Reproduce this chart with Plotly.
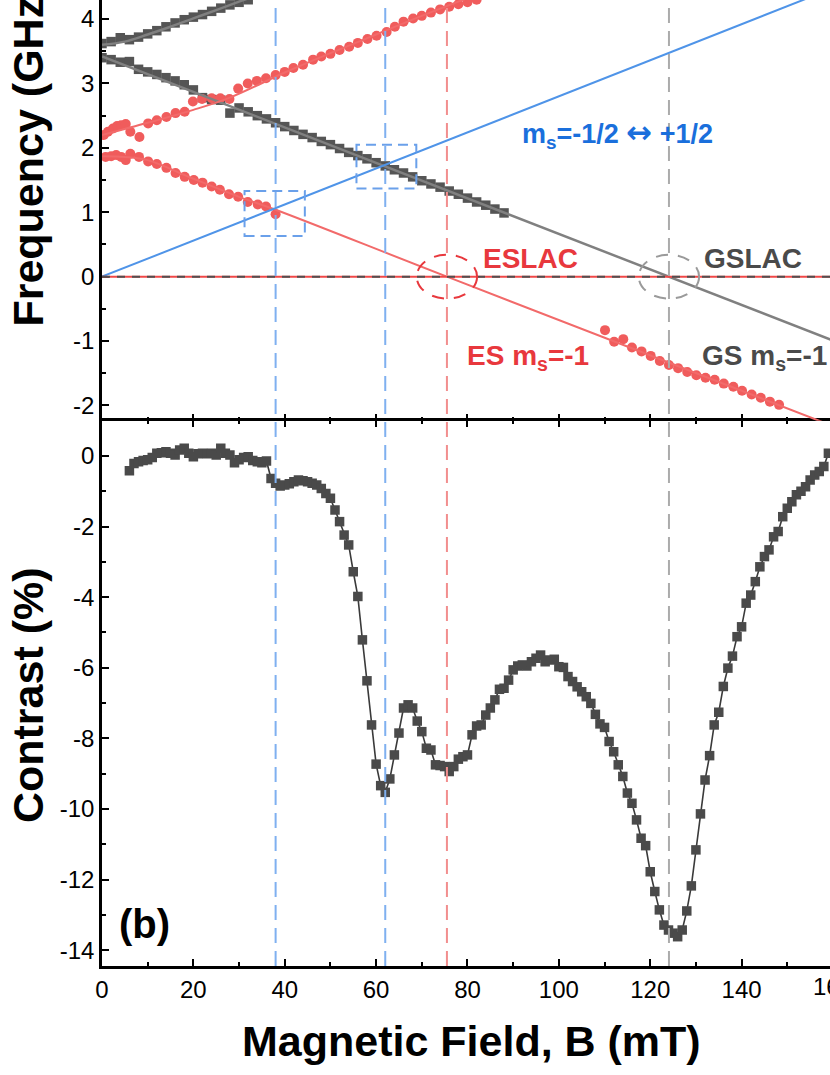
import plotly.graph_objects as go

# ---------------- data ----------------
# Top panel: ES resonances (red circles)
es_low_B1 = [0.8, 2.0, 3.1, 4.2, 5.2, 6.2, 8.1, 10.1, 12.0, 14.1, 16.1, 18.1, 20.1, 22.0, 24.0, 25.8,
             27.8, 29.8, 31.9, 34.1, 35.9, 38.0]
es_low_f1 = [1.86, 1.87, 1.89, 1.86, 1.81, 1.91, 1.86, 1.79, 1.75, 1.69, 1.61, 1.55, 1.50, 1.46, 1.40, 1.35,
             1.28, 1.24, 1.16, 1.12, 1.09, 0.97]
es_low_B2 = [110.1, 112.1, 114.1, 116.0, 118.1, 120.1, 122.1, 124.1, 126.1, 128.1, 130.1, 132.1, 134.1,
             136.1, 138.2, 140.1, 142.2, 144.2, 146.2, 148.2]
es_low_f2 = [-0.83, -1.01, -0.97, -1.10, -1.16, -1.23, -1.31, -1.37, -1.42, -1.48, -1.53, -1.57, -1.60,
             -1.66, -1.71, -1.77, -1.83, -1.88, -1.94, -1.99]
es_up_B = [0.4, 1.3, 2.4, 3.3, 4.2, 5.2, 6.2, 8.2, 10.1, 12.0, 14.1, 16.1, 18.1, 19.9, 21.9, 24.0, 25.9,
           27.9, 29.8, 31.9, 33.9, 35.9, 38.0, 40.0, 41.9, 44.0, 46.2, 48.0, 50.0, 52.0, 54.1, 56.0, 58.1,
           60.1, 62.3, 64.1, 66.0, 68.1, 70.0, 72.0, 74.0, 76.0, 78.0, 80.0, 82.0]
es_up_f = [2.20, 2.25, 2.30, 2.34, 2.35, 2.37, 2.25, 2.17, 2.38, 2.43, 2.48, 2.54, 2.56, 2.72, 2.76, 2.77,
           2.77, 2.76, 2.92, 3.00, 3.04, 3.08, 3.13, 3.18, 3.24, 3.29, 3.37, 3.42, 3.46, 3.52, 3.57, 3.63,
           3.69, 3.74, 3.80, 3.88, 3.96, 4.01, 4.05, 4.10, 4.15, 4.19, 4.23, 4.26, 4.30]

# Top panel: GS resonances (gray squares)
gs_low_B = [0, 2, 4, 6, 8, 10, 12, 14, 16, 18, 20, 22, 24, 26, 28, 30, 32, 34, 36, 38, 40, 42, 44, 46,
            48, 50, 52, 54, 56, 58, 60, 62, 64, 66, 68, 70, 72, 74, 76, 78, 80, 82, 84, 86, 88]
gs_low_f = [3.40, 3.37, 3.33, 3.34, 3.22, 3.18, 3.14, 3.09, 3.04, 2.98, 2.90, 2.78, 2.75, 2.74, 2.54,
            2.62, 2.56, 2.50, 2.45, 2.39, 2.33, 2.27, 2.21, 2.16, 2.10, 2.05, 1.99, 1.93, 1.88, 1.83,
            1.77, 1.72, 1.66, 1.61, 1.55, 1.49, 1.44, 1.39, 1.33, 1.28, 1.22, 1.16, 1.11, 1.05, 0.99]
gs_up_B = [0, 2, 4, 6, 8, 10, 12, 14, 16, 18, 20, 22, 24, 26, 28, 30, 32]
gs_up_f = [3.62, 3.65, 3.71, 3.68, 3.72, 3.77, 3.82, 3.88, 3.94, 3.99, 4.03, 4.07, 4.12, 4.17, 4.22,
           4.26, 4.30]

# Top panel: fitted lines
blue_B = [0, 160]
blue_f = [0, 4.48]
gs_fit_low_B = [0, 160]
gs_fit_low_f = [3.42, -0.99]
gs_fit_up_B = [0, 5, 10, 15, 20, 25, 30, 35]
gs_fit_up_f = [3.60, 3.65, 3.76, 3.88, 4.01, 4.14, 4.27, 4.40]
es_fit_up_B = [0, 10, 20, 28, 40, 50, 60, 70, 82]
es_fit_up_f = [2.20, 2.39, 2.59, 2.78, 3.17, 3.47, 3.76, 4.05, 4.38]
es_fit_low_B = [0, 5, 10, 20, 30, 38, 75.5, 160]
es_fit_low_f = [1.87, 1.86, 1.81, 1.52, 1.24, 1.04, 0, -2.32]

# Bottom panel: contrast
con_B = list(range(6, 160))
con_C = [-0.42, -0.21, -0.16, -0.13, -0.11, -0.04, 0.08, 0.09, 0.12, 0.08, 0.03, 0.17, 0.22, 0.08,
         -0.02, 0.06, 0.08, 0.06, 0.08, 0.03, 0.22, 0.08, 0.03, -0.19, -0.11, -0.04, -0.02, -0.13,
         -0.16, -0.19, -0.14, -0.64, -0.77, -0.85, -0.82, -0.79, -0.73, -0.68, -0.70, -0.73, -0.77,
         -0.82, -0.92, -1.06, -1.20, -1.53, -1.86, -2.24, -2.52, -3.28, -3.98, -5.21, -6.37, -7.62,
         -8.73, -9.34, -9.53, -9.15, -8.47, -7.85, -7.14, -7.05, -7.14, -7.51, -7.81, -8.28, -8.33,
         -8.75, -8.77, -8.80, -8.94, -8.80, -8.59, -8.52, -8.47, -7.90, -7.65, -7.62, -7.34, -7.14,
         -6.91, -6.61, -6.58, -6.35, -6.06, -5.95, -5.92, -5.95, -5.83, -5.73, -5.64, -5.83, -5.78,
         -5.76, -5.97, -5.99, -6.25, -6.39, -6.54, -6.68, -6.82, -7.01, -7.32, -7.59, -7.69, -8.09,
         -8.38, -8.75, -9.08, -9.55, -9.84, -10.31, -10.83, -11.04, -11.78, -12.34, -12.86, -13.29,
         -13.43, -13.52, -13.62, -13.43, -12.89, -12.18, -11.16, -10.14, -9.18, -8.49, -7.62, -7.26,
         -6.53, -6.01, -5.67, -5.12, -4.84, -4.17, -3.94, -3.56, -3.14, -2.85, -2.66, -2.29, -2.14,
         -1.72, -1.48, -1.30, -1.10, -1.00, -0.87, -0.68, -0.54, -0.44, -0.30, 0.08]

# Tick labels
x_ticks = [0, 20, 40, 60, 80, 100, 120, 140]
x_ticklabels = ["0", "20", "40", "60", "80", "100", "120", "140"]
x_edge_label = "160"   # cut by the right edge in the picture
con_ticks = [-14, -12, -10, -8, -6, -4, -2, 0]
con_ticklabels = ["-14", "-12", "-10", "-8", "-6", "-4", "-2", "0"]
freq_ticks = [-2, -1, 0, 1, 2, 3, 4]
freq_ticklabels = ["-2", "-1", "0", "1", "2", "3", "4"]

# Marked fields (mT)
blue_marks = [38, 62]
eslac_B = 75.5
gslac_B = 124.1

# ---------------- styles ----------------
RED_DOT = "#f05c5c"
RED_LINE = "#f26a6a"
RED_TXT = "#e8383d"
GRAY_SQ = "#555555"
GRAY_LINE = "#808080"
GRAY_TXT = "#4a4a4a"
BLUE_LINE = "#4f94e8"
BLUE_TXT = "#1a6fdc"
BLUE_DASH = "#7fb0f0"
FONT = "Liberation Sans, Arial, sans-serif"

fig = go.Figure()

# top panel markers
fig.add_trace(go.Scatter(x=gs_up_B, y=gs_up_f, mode="markers", xaxis="x2", yaxis="y2",
                         marker=dict(symbol="square", size=9.5, color=GRAY_SQ)))
fig.add_trace(go.Scatter(x=gs_low_B, y=gs_low_f, mode="markers", xaxis="x2", yaxis="y2",
                         marker=dict(symbol="square", size=9.5, color=GRAY_SQ)))
for bx, fy in [(es_low_B1, es_low_f1), (es_low_B2, es_low_f2), (es_up_B, es_up_f)]:
    fig.add_trace(go.Scatter(x=bx, y=fy, mode="markers", xaxis="x2", yaxis="y2",
                             marker=dict(symbol="circle", size=10, color=RED_DOT)))
# top panel fit lines
fig.add_trace(go.Scatter(x=gs_fit_low_B, y=gs_fit_low_f, mode="lines", xaxis="x2", yaxis="y2",
                         line=dict(color=GRAY_LINE, width=2.5)))
fig.add_trace(go.Scatter(x=gs_fit_up_B, y=gs_fit_up_f, mode="lines", xaxis="x2", yaxis="y2",
                         line=dict(color=GRAY_LINE, width=2.5, shape="spline")))
fig.add_trace(go.Scatter(x=es_fit_up_B, y=es_fit_up_f, mode="lines", xaxis="x2", yaxis="y2",
                         line=dict(color=RED_LINE, width=2, shape="spline")))
fig.add_trace(go.Scatter(x=es_fit_low_B, y=es_fit_low_f, mode="lines", xaxis="x2", yaxis="y2",
                         line=dict(color=RED_LINE, width=2, shape="spline")))
fig.add_trace(go.Scatter(x=blue_B, y=blue_f, mode="lines", xaxis="x2", yaxis="y2",
                         line=dict(color=BLUE_LINE, width=2)))

# bottom panel contrast
fig.add_trace(go.Scatter(x=con_B, y=con_C, mode="lines+markers", xaxis="x", yaxis="y",
                         line=dict(color="#3a3a3a", width=1.6),
                         marker=dict(symbol="square", size=9.5, color="#4a4a4a")))

shapes = []
# zero line: red with gray dashes
shapes.append(dict(type="line", xref="x2", yref="y2", x0=0, x1=160, y0=0, y1=0,
                   line=dict(color="#f04848", width=2)))
shapes.append(dict(type="line", xref="x2", yref="y2", x0=0, x1=160, y0=0, y1=0,
                   line=dict(color="#505050", width=2, dash="8px,7px")))
# vertical markers through both panels
for bm in blue_marks:
    shapes.append(dict(type="line", xref="x", yref="paper", x0=bm, x1=bm, y0=0, y1=1,
                       line=dict(color=BLUE_DASH, width=2, dash="15px,8px")))
shapes.append(dict(type="line", xref="x", yref="paper", x0=eslac_B, x1=eslac_B, y0=0, y1=1,
                   line=dict(color="#f28e8e", width=2, dash="15px,8px")))
shapes.append(dict(type="line", xref="x", yref="paper", x0=gslac_B, x1=gslac_B, y0=0, y1=1,
                   line=dict(color="#ababab", width=2, dash="15px,8px")))
# dashed boxes around crossings
shapes.append(dict(type="rect", xref="x2", yref="y2", x0=31.2, x1=44.4, y0=0.63, y1=1.33,
                   line=dict(color="#6aa0ea", width=2, dash="10px,6px")))
shapes.append(dict(type="rect", xref="x2", yref="y2", x0=55.7, x1=68.8, y0=1.37, y1=2.05,
                   line=dict(color="#6aa0ea", width=2, dash="10px,6px")))
# dashed ellipses at LACs
shapes.append(dict(type="circle", xref="x2", yref="y2", x0=eslac_B - 6.6, x1=eslac_B + 6.6,
                   y0=-0.34, y1=0.34, line=dict(color="#e8383d", width=2, dash="12px,10px")))
shapes.append(dict(type="circle", xref="x2", yref="y2", x0=gslac_B - 6.6, x1=gslac_B + 6.6,
                   y0=-0.34, y1=0.34, line=dict(color="#9a9a9a", width=2, dash="12px,10px")))

ARROW = '<span style="font-family:DejaVu Sans;font-size:31px">\u2194</span>'
annotations = [
    dict(text="<b>m<sub>s</sub>=-1/2 " + ARROW + " +1/2</b>", xref="x2", yref="y2", x=112.9, y=2.22,
         showarrow=False, font=dict(family=FONT, size=27, color=BLUE_TXT), xanchor="center",
         yanchor="middle"),
    dict(text="<b>ESLAC</b>", xref="x2", yref="y2", x=93.7, y=0.29, showarrow=False,
         font=dict(family=FONT, size=28, color=RED_TXT), xanchor="center", yanchor="middle"),
    dict(text="<b>GSLAC</b>", xref="x2", yref="y2", x=142.4, y=0.29, showarrow=False,
         font=dict(family=FONT, size=28, color=GRAY_TXT), xanchor="center", yanchor="middle"),
    dict(text="<b>ES m<sub>s</sub>=-1</b>", xref="x2", yref="y2", x=93.2, y=-1.25, showarrow=False,
         font=dict(family=FONT, size=28, color=RED_TXT), xanchor="center", yanchor="middle"),
    dict(text="<b>GS m<sub>s</sub>=-1</b>", xref="x2", yref="y2", x=145.1, y=-1.25, showarrow=False,
         font=dict(family=FONT, size=28, color=GRAY_TXT), xanchor="center", yanchor="middle"),
    dict(text="<b>(b)</b>", xref="x", yref="y", x=9.2, y=-13.26, showarrow=False,
         font=dict(family=FONT, size=40, color="black"), xanchor="center", yanchor="middle"),
    dict(text=x_edge_label, xref="paper", yref="paper", x=1.004, y=-0.0215, showarrow=False,
         font=dict(family=FONT, size=24, color="black"), xanchor="center", yanchor="middle"),
    dict(text="<b>Magnetic Field, B (mT)</b>", xref="paper", yref="paper", x=0.508, y=-0.0776,
         showarrow=False, font=dict(family=FONT, size=43, color="black"), xanchor="center",
         yanchor="middle"),
    dict(text="<b>Contrast (%)</b>", xref="paper", yref="paper", x=-0.1016, y=0.2805,
         showarrow=False, textangle=-90, font=dict(family=FONT, size=43, color="black"),
         xanchor="center", yanchor="middle"),
    dict(text="<b>Frequency (GHz)</b>", xref="paper", yref="paper", x=-0.1016, y=0.840,
         showarrow=False, textangle=-90, font=dict(family=FONT, size=43, color="black"),
         xanchor="center", yanchor="middle"),
]

axis_common = dict(showline=True, linecolor="black", linewidth=2.5, ticks="inside", ticklen=7,
                   tickwidth=2.2, tickcolor="black", showgrid=False, zeroline=False,
                   tickfont=dict(family=FONT, size=24, color="black"))

def minor(step):
    return dict(ticks="inside", ticklen=4, tickwidth=2, tickcolor="black", tickmode="linear",
                tick0=0, dtick=step)

SPLIT = 0.5645
fig.update_layout(
    width=830, height=1075,
    margin=dict(l=102, r=0, t=0, b=109, pad=0),
    paper_bgcolor="white", plot_bgcolor="white",
    showlegend=False,
    shapes=shapes, annotations=annotations,
    xaxis=dict(axis_common, domain=[0, 1], anchor="y", range=[0, 159.35], tickmode="array",
               tickvals=x_ticks, ticktext=x_ticklabels, mirror="ticks", minor=minor(10)),
    yaxis=dict(axis_common, domain=[0, SPLIT], anchor="x", range=[-14.45, 1.0], tickmode="array",
               tickvals=con_ticks, ticktext=con_ticklabels, minor=minor(1)),
    xaxis2=dict(axis_common, domain=[0, 1], anchor="y2", range=[0, 159.35], tickmode="array",
                tickvals=x_ticks, matches="x", showticklabels=False, showline=False,
                minor=minor(10)),
    yaxis2=dict(axis_common, domain=[SPLIT, 1], anchor="x2", range=[-2.236, 4.296], tickmode="array",
                tickvals=freq_ticks, ticktext=freq_ticklabels, minor=minor(0.5)),
)

fig.write_html("out.html", config={"displayModeBar": False},
               post_script="document.body.style.margin='0px';")
